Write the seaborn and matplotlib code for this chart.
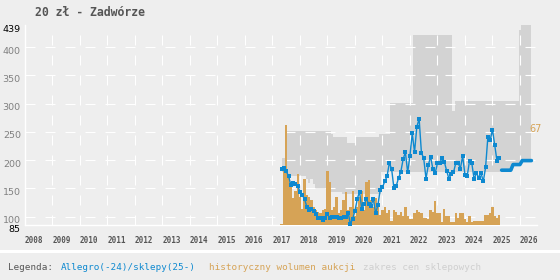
import numpy as np
import pandas as pd
import matplotlib
matplotlib.use('Agg')
import matplotlib.pyplot as plt
import seaborn as sns
from matplotlib.transforms import ScaledTranslation
from matplotlib.patches import Rectangle

# ---------------- data ----------------
title = '20 zł - Zadwórze'
allegro_start = '2017-05'
allegro_price = [184, 186, 180, 172, 156, 159, 158, 154, 144, 138,
                 131, 117, 112, 113, 110, 105, 98, 98, 93, 97,
                 104, 98, 100, 99, 100, 97, 98, 100, 99, 107,
                 87, 96, 110, 131, 144, 113, 122, 131, 122, 119,
                 131, 106, 120, 147, 152, 162, 171, 195, 184, 150,
                 154, 168, 179, 201, 214, 178, 208, 247, 214, 259,
                 273, 213, 203, 167, 191, 206, 184, 177, 194, 194,
                 204, 197, 181, 167, 175, 178, 195, 195, 185, 207,
                 174, 172, 199, 194, 166, 177, 169, 177, 162, 187,
                 241, 235, 254, 226, 198, 204]
shop_start = '2025-05'
shop_price = [182, 182, 182, 182, 182, 192, 192, 192, 192, 199, 199, 199, 199, 199]

band_start = '2017-05'
band_high = [204, 204, 204,
             252, 252, 252, 252, 252, 252, 252, 252, 252, 252,
             252, 252, 252, 252, 252, 252, 252, 252, 252,
             246,
             240, 240, 240, 240, 240, 240,
             231, 231, 231, 231,
             240, 240, 240, 240, 240, 240, 240, 240, 240, 240,
             246, 246, 246, 246, 246,
             301, 301, 301, 301, 301, 301, 301, 301, 301, 301,
             422, 422, 422, 422, 422, 422, 422, 422, 422, 422,
             422, 422, 422, 422, 422, 422, 422,
             287,
             304, 304, 304, 304, 304, 304, 304, 304, 304, 304,
             304, 304, 304, 304, 304, 304, 304, 304, 304, 304,
             304, 304, 304, 304, 304, 304, 304, 304,
             430,
             445, 445, 445, 445, 445]
band_low = [178, 178, 178,
            172, 172, 172, 172, 172, 172, 172, 172,
            166, 160, 166, 158,
            150, 150, 150, 150, 150,
            143, 143, 143, 143, 143, 143, 143,
            140, 140, 140, 140, 140, 140, 140, 140, 140, 140,
            140, 140, 140, 140, 140, 140, 140,
            178, 178, 178, 178, 178, 178, 178, 178, 178, 178,
            178, 178, 178, 178, 178, 178, 178, 178, 178, 178,
            178, 178, 178, 178, 178, 178, 178, 178, 178, 178,
            178, 178, 178, 178, 178, 178, 178, 178, 178, 178,
            178, 178, 178, 178, 178, 178, 178, 178, 178, 178,
            178, 178,
            182, 182, 182, 182, 182,
            192, 192, 192, 192,
            199, 199, 199, 199, 199]

volume_start = '2017-05'
volume = [1, 38, 67, 32, 29, 18, 23, 34, 19, 11,
          31, 20, 19, 17, 12, 10, 9, 8, 10, 11,
          36, 29, 10, 12, 19, 8, 10, 17, 22, 10,
          12, 23, 6, 12, 19, 23, 10, 29, 30, 17,
          12, 18, 14, 7, 10, 12, 8, 10, 3, 10,
          9, 7,
          9, 6, 12, 6, 4, 4, 8, 10, 9, 8,
          5, 5, 4, 10, 9, 16, 8, 8, 2, 11,
          6, 6, 2, 2, 8, 5, 8, 8, 4, 2,
          6, 2, 3,
          3, 3, 3, 3, 7, 7, 8, 12, 6, 5, 7]
volume_max = 67

years = list(range(2008, 2027))
ytick_values = [85, 100, 150, 200, 250, 300, 350, 400, 439]

legend_parts = [('Legenda:', '#555555'),
                ('Allegro(-24)/sklepy(25-)', '#0e89d0'),
                ('historyczny wolumen aukcji', '#d6a356'),
                ('zakres cen sklepowych', '#cfcfcf')]


def decimal_months(start, n):
    d = pd.date_range(start, periods=n, freq='MS')
    return np.asarray(d.year + (d.month - 1) / 12.0, dtype=float)


# ---------------- style ----------------
sns.set_theme(style='white')
plt.rcParams['font.family'] = ['DejaVu Sans']
plt.rcParams['lines.scale_dashes'] = False

BG = '#eeeeee'
BLUE = '#0e89d0'
ORANGE = '#d6a356'
BAND = '#d3d3d3'

fig = plt.figure(figsize=(5.6, 2.8), dpi=100, facecolor=BG)
L, R, B, T = 25 / 560, 537 / 560, 55 / 280, 255 / 280
ax = fig.add_axes([L, B, R - L, T - B])
ax.set_facecolor(BG)

# shop price range band
xb = decimal_months(band_start, len(band_high))
ax.fill_between(xb, band_low, band_high, step='mid', color=BAND, lw=0, zorder=1)

ax.set_xlim(2008, 2026.62)
ax.set_ylim(85, 439)
ax.set_axisbelow('line')
ax.grid(True, color='white', lw=0.8, linestyle=(0, (7.2, 7.2)))

ax.set_yticks(ytick_values)
ax.set_yticklabels([str(v) for v in ytick_values])
ax.tick_params(axis='y', length=0, pad=3, labelsize=6.8)
yt = ax.yaxis.get_major_ticks()
yt[0].gridline.set_visible(False)
yt[-1].gridline.set_visible(False)
for i, lab in enumerate(ax.get_yticklabels()):
    lab.set_color('#000000' if i in (0, len(ytick_values) - 1) else '#808080')
    shift = -0.04 if i == len(ytick_values) - 1 else -0.03
    lab.set_transform(lab.get_transform() + ScaledTranslation(0, shift, fig.dpi_scale_trans))

ax.set_xticks(years)
ax.set_xticklabels([str(y) for y in years], ha='left', family='DejaVu Sans Mono',
                   weight='bold', size=5.5, color='#555555')
ax.tick_params(axis='x', length=2, color='white', width=0.8, pad=6)
for s in ('top', 'right'):
    ax.spines[s].set_visible(False)
for s in ('left', 'bottom'):
    ax.spines[s].set_color('white')
    ax.spines[s].set_linewidth(1.0)

# volume bars (secondary scale)
ax2 = ax.twinx()
xv = decimal_months(volume_start, len(volume))
ax2.bar(xv, volume, width=1 / 12, color=ORANGE, linewidth=0, align='center')
ax2.set_ylim(0, 2 * volume_max)
ax2.set_yticks([])
ax2.set_ylabel('')
for s in ax2.spines.values():
    s.set_visible(False)
ax2.annotate(str(volume_max), xy=(1, volume_max), xycoords=('axes fraction', 'data'),
             xytext=(-5.8, -2.9), textcoords='offset points', ha='left', va='center',
             color=ORANGE, size=7)

# price lines
ax3 = ax.twinx()
xa = decimal_months(allegro_start, len(allegro_price))
xs = decimal_months(shop_start, len(shop_price))
a_df = pd.DataFrame({'month': xa, 'price': allegro_price})
s_df = pd.DataFrame({'month': xs, 'price': shop_price})
sns.lineplot(data=a_df, x='month', y='price', ax=ax3, color=BLUE, lw=1.0, marker='s',
             markersize=3.2, markeredgewidth=0)
sns.lineplot(data=s_df, x='month', y='price', ax=ax3, color=BLUE, lw=2.6)
ax3.set_ylim(85, 439)
ax3.set_yticks([])
ax3.set_ylabel('')
for s in ax3.spines.values():
    s.set_visible(False)
ax.set_xlim(2008, 2026.62)

# title
fig.text(35 / 560, 1 - 12.5 / 280, title, family='DejaVu Sans Mono', weight='bold',
         size=8.3, color='#555555', ha='left', va='center')

# separator and legend
fig.add_artist(Rectangle((0, 1 - 253.3 / 280), 1, 3.3 / 280, transform=fig.transFigure,
                         color='white', lw=0))
xpos = [8, 60.5, 209, 363]
for (txt, col), xp in zip(legend_parts, xpos):
    fig.text(xp / 560, 1 - 267.5 / 280, txt, family='DejaVu Sans Mono', size=6.7,
             color=col, ha='left', va='center')

fig.savefig('out.png', dpi=100, facecolor=BG)
